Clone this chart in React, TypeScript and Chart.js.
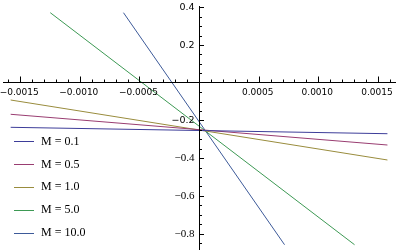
import React, { useEffect, useRef } from "react";
import { Chart, registerables } from "chart.js";

Chart.register(...registerables);

const seriesLabels = ["M = 0.1", "M = 0.5", "M = 1.0", "M = 5.0", "M = 10.0"];
const seriesColors = ["#3d3d99", "#993d71", "#998c3d", "#3d9954", "#3d5a99"];
const xStart = [-0.00158, -0.00158, -0.00158, -0.001248, -0.000634];
const yStart = [-0.2366, -0.1676, -0.0918, 0.3714, 0.3714];
const xEnd = [0.00158, 0.00158, 0.00158, 0.001304, 0.000717];
const yEnd = [-0.2706, -0.3305, -0.41, -0.8594, -0.8594];

const xTickValues = [-0.0015, -0.001, -0.0005, 0.0005, 0.001, 0.0015];
const xTickLabels = ["\u22120.0015", "\u22120.0010", "\u22120.0005", "0.0005", "0.0010", "0.0015"];
const yTickValues = [0.4, 0.2, -0.2, -0.4, -0.6, -0.8];
const yTickLabels = ["0.4", "0.2", "\u22120.2", "\u22120.4", "\u22120.6", "\u22120.8"];
const yTickSerif = [false, false, false, true, true, true];

const X_MIN = -0.0016695;
const X_MAX = 0.0016518;
const Y_MIN = -0.8928;
const Y_MAX = 0.4387;
const X_MINOR_STEP = 0.0001;
const Y_MINOR_STEP = 0.05;

const axesPlugin = {
  id: "mmaAxes",
  afterDatasetsDraw(chart: any) {
    const ctx = chart.ctx as CanvasRenderingContext2D;
    const xs = chart.scales.x;
    const ys = chart.scales.y;
    const x0 = Math.round(xs.getPixelForValue(0)) + 0.5;
    const y0 = Math.round(ys.getPixelForValue(0)) - 0.5;
    ctx.save();
    ctx.strokeStyle = "#000";
    ctx.lineWidth = 1;
    ctx.beginPath();
    ctx.moveTo(3, y0);
    ctx.lineTo(chart.width, y0);
    ctx.moveTo(x0, 6);
    ctx.lineTo(x0, 250);
    // x minor ticks
    for (let i = -16; i <= 16; i++) {
      if (i === 0) continue;
      const px = Math.round(xs.getPixelForValue(i * X_MINOR_STEP)) + 0.5;
      const major = i % 5 === 0;
      ctx.moveTo(px, y0);
      ctx.lineTo(px, y0 - (major ? 6 : 3));
    }
    for (let j = -17; j <= 8; j++) {
      if (j === 0) continue;
      const py = Math.round(ys.getPixelForValue(j * Y_MINOR_STEP)) + 0.5;
      const major = j % 4 === 0;
      ctx.moveTo(x0, py);
      ctx.lineTo(x0 + (major ? 4.5 : 2.5), py);
    }
    ctx.stroke();

    ctx.fillStyle = "#000";
    ctx.font = "9px 'DejaVu Sans'";
    ctx.textAlign = "center";
    ctx.textBaseline = "middle";
    xTickValues.forEach((v, i) => {
      const px = xs.getPixelForValue(v);
      ctx.fillText(xTickLabels[i], px - 1, y0 + 10);
    });
    ctx.textAlign = "right";
    yTickValues.forEach((v, i) => {
      const py = ys.getPixelForValue(v);
      ctx.font = yTickSerif[i] ? "11px 'Liberation Serif'" : "9.5px 'DejaVu Sans'";
      ctx.fillText(yTickLabels[i], x0 - 5, py + 0.5);
    });

    // legend
    ctx.textAlign = "left";
    ctx.font = "12px 'Liberation Serif'";
    seriesLabels.forEach((lab, i) => {
      const ly = 141 + i * 22.9;
      ctx.strokeStyle = seriesColors[i];
      ctx.beginPath();
      ctx.moveTo(14, Math.round(ly) + 0.5);
      ctx.lineTo(34, Math.round(ly) + 0.5);
      ctx.stroke();
      ctx.fillStyle = "#000";
      ctx.fillText(lab, 41, ly + 0.5);
    });
    ctx.restore();
  },
};

export default function App() {
  const ref = useRef<HTMLCanvasElement | null>(null);
  useEffect(() => {
    document.body.style.margin = "0";
    const canvas = ref.current;
    if (!canvas) return;
    const chart = new Chart(canvas, {
      type: "line",
      data: {
        datasets: seriesLabels.map((lab, i) => ({
          label: lab,
          data: [
            { x: xStart[i], y: yStart[i] },
            { x: xEnd[i], y: yEnd[i] },
          ],
          borderColor: seriesColors[i],
          borderWidth: 1,
          pointRadius: 0,
          fill: false,
          tension: 0,
        })),
      },
      options: {
        animation: false,
        responsive: false,
        maintainAspectRatio: false,
        layout: { padding: 0 },
        plugins: { legend: { display: false }, tooltip: { enabled: false } },
        scales: {
          x: { type: "linear", min: X_MIN, max: X_MAX, display: false },
          y: { type: "linear", min: Y_MIN, max: Y_MAX, display: false },
        },
      },
      plugins: [axesPlugin],
    });
    return () => chart.destroy();
  }, []);
  return (
    <div style={{ width: 396, height: 251, background: "#fff" }}>
      <canvas ref={ref} width={396} height={251} />
    </div>
  );
}
